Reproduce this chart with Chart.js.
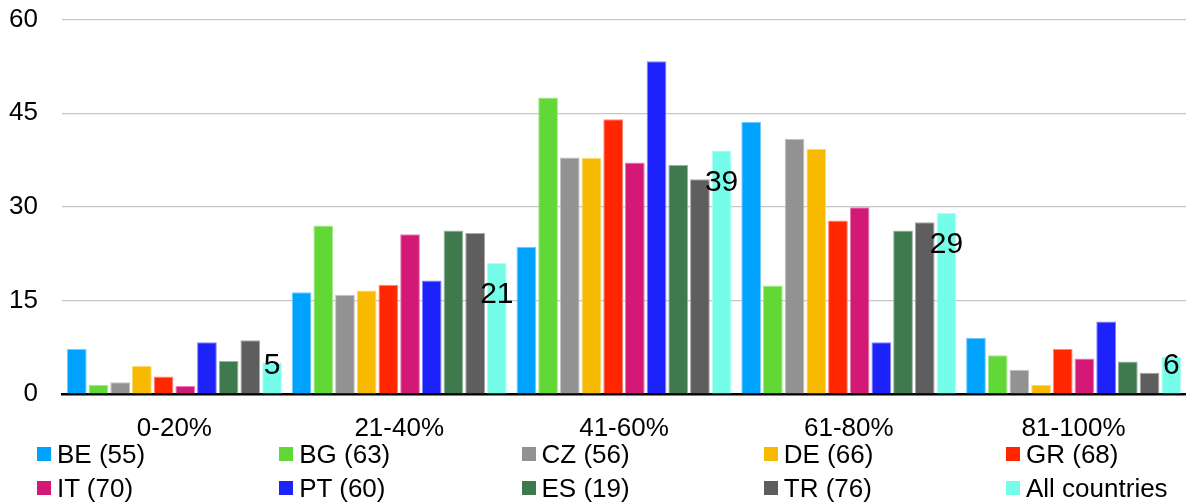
<!DOCTYPE html>
<html>
<head>
<meta charset="utf-8">
<script src="https://cdn.jsdelivr.net/npm/chart.js@4/dist/chart.umd.min.js"></script>
<style>
  html, body { margin: 0; padding: 0; background: #ffffff; }
  #wrap { position: relative; width: 1186px; height: 504px; overflow: hidden; }
  #chart { position: absolute; left: 0; top: 0; }
  #legend {
    position: absolute; left: 37px; top: 437px;
    display: grid; grid-template-columns: repeat(5, 242.25px);
    grid-auto-rows: 34px;
    font-family: "Liberation Sans", Arial, sans-serif; font-size: 26px; color: #000;
  }
  .item { display: flex; align-items: center; white-space: nowrap; }
  .swatch { width: 14px; height: 14px; margin-right: 6px; flex: none; }
</style>
</head>
<body>
<div id="wrap">
  <canvas id="chart" width="1186" height="504"></canvas>
  <div id="legend"></div>
</div>
<script>
// Score bands on the category axis
const categories = ['0-20%', '21-40%', '41-60%', '61-80%', '81-100%'];

// Series names (country code and sample size)
const seriesNames = ['BE (55)', 'BG (63)', 'CZ (56)', 'DE (66)', 'GR (68)',
                     'IT (70)', 'PT (60)', 'ES (19)', 'TR (76)', 'All countries'];

// Share of respondents per band, in percent
const BE  = [7.2, 16.3, 23.6, 43.6, 9.0];
const BG  = [1.5, 27.0, 47.5, 17.4, 6.2];
const CZ  = [1.9, 15.9, 37.9, 40.9, 3.9];
const DE  = [4.5, 16.6, 37.8, 39.3, 1.5];
const GR  = [2.8, 17.5, 44.0, 27.8, 7.2];
const IT  = [1.3, 25.6, 37.1, 29.9, 5.7];
const PT  = [8.3, 18.2, 53.3, 8.3, 11.6];
const ES  = [5.3, 26.2, 36.7, 26.2, 5.2];
const TR  = [8.6, 25.8, 34.4, 27.5, 3.4];
const ALL = [5, 21, 39, 29, 6];

// Value axis ticks
const yTicks = [0, 15, 30, 45, 60];

const seriesValues = [BE, BG, CZ, DE, GR, IT, PT, ES, TR, ALL];
const seriesColors = ['#00A2FF', '#61D836', '#929292', '#F8BA00', '#FF2600',
                      '#D41876', '#1E22FA', '#3E7A4D', '#5E5E5E', '#76FDEA'];

const FONT = '"Liberation Sans", Arial, sans-serif';

function tint(hex, amt) {
  const n = parseInt(hex.slice(1), 16);
  const r = (n >> 16) & 255, g = (n >> 8) & 255, b = n & 255;
  const m = c => Math.round(c + (255 - c) * amt);
  return `rgb(${m(r)},${m(g)},${m(b)})`;
}

const datasets = seriesValues.map((vals, i) => ({
  label: seriesNames[i],
  data: vals,
  backgroundColor: seriesColors[i],
  borderColor: tint(seriesColors[i], 0.45),
  borderWidth: { top: 1, left: 1, right: 1, bottom: 0 },
  borderSkipped: 'start',
  categoryPercentage: 0.965,
  barPercentage: 0.91
}));

// Value labels on the "All countries" bars
const valueLabels = {
  id: 'valueLabels',
  afterDatasetsDraw(chart) {
    const idx = chart.data.datasets.length - 1;
    const meta = chart.getDatasetMeta(idx);
    const ctx = chart.ctx;
    ctx.save();
    ctx.font = '30px ' + FONT;
    ctx.fillStyle = '#000';
    ctx.textAlign = 'center';
    ctx.textBaseline = 'middle';
    meta.data.forEach((bar, j) => {
      const v = chart.data.datasets[idx].data[j];
      const y = Math.min(bar.y + 32, bar.base - 28);
      ctx.fillText(String(Math.round(v)), bar.x, y);
    });
    ctx.restore();
  }
};

const chart = new Chart(document.getElementById('chart'), {
  type: 'bar',
  data: { labels: categories, datasets },
  options: {
    responsive: false,
    animation: false,
    layout: { padding: 0 },
    plugins: { legend: { display: false }, tooltip: { enabled: false } },
    scales: {
      x: {
        grid: { display: false, drawTicks: false },
        border: { display: true, color: '#000', width: 2.5 },
        ticks: { color: '#000', font: { family: FONT, size: 26 }, padding: 19 },
        afterFit(scale) { scale.height = 110; }
      },
      y: {
        min: yTicks[0],
        max: yTicks[yTicks.length - 1],
        afterBuildTicks(scale) { scale.ticks = yTicks.map(v => ({ value: v })); },
        grid: { color: '#c6c6c6', lineWidth: 1.2, drawTicks: false },
        border: { display: false },
        ticks: { color: '#000', font: { family: FONT, size: 26 }, padding: 24 },
        afterFit(scale) {
          scale.width = 62;
          scale.paddingTop = 19.5;
          scale.paddingBottom = 0;
        }
      }
    }
  },
  plugins: [valueLabels]
});

// Legend grid built from the chart's datasets
const legend = document.getElementById('legend');
chart.data.datasets.forEach(ds => {
  const item = document.createElement('div');
  item.className = 'item';
  const sw = document.createElement('span');
  sw.className = 'swatch';
  sw.style.background = ds.backgroundColor;
  const tx = document.createElement('span');
  tx.textContent = ds.label;
  item.appendChild(sw);
  item.appendChild(tx);
  legend.appendChild(item);
});
</script>
</body>
</html>
